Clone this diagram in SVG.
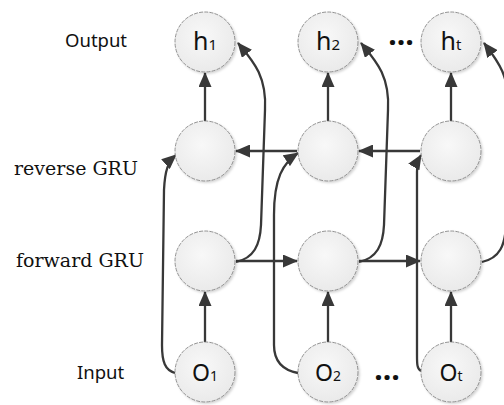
<svg xmlns="http://www.w3.org/2000/svg" width="504" height="405" viewBox="0 0 504 405">
<defs>
  <radialGradient id="g" cx="45%" cy="40%" r="65%">
    <stop offset="0" stop-color="#f8f8f8"/>
    <stop offset="1" stop-color="#e9e9e9"/>
  </radialGradient>
  <filter id="sh" x="-20%" y="-20%" width="150%" height="150%">
    <feDropShadow dx="1.5" dy="1.5" stdDeviation="1.2" flood-color="#000" flood-opacity="0.18"/>
  </filter>
  <marker id="ah" markerUnits="userSpaceOnUse" markerWidth="15" markerHeight="13" refX="14" refY="6.5" orient="auto">
    <path d="M0,0 L15,6.5 L0,13 z" fill="#383838"/>
  </marker>
  <style>
    .n{fill:url(#g);stroke:#7a7a7a;stroke-width:0.8;stroke-dasharray:4 1.2;filter:url(#sh)}
    .c path{fill:none;stroke:#383838;stroke-width:2.3;marker-end:url(#ah)}
    .lb{font-family:"Noto Sans","Open Sans",sans-serif;font-size:18.5px;fill:#111}
    .ls{font-family:"DejaVu Serif","Liberation Serif",serif;font-size:19px;fill:#111}
    .t{font-family:"Noto Sans","Open Sans",sans-serif;fill:#111;text-anchor:middle}
    .d{font-family:"Noto Sans",sans-serif;font-weight:bold;font-size:30px;fill:#111;text-anchor:middle}
  </style>
</defs>
<rect width="504" height="405" fill="#fff"/>

<text class="lb" x="65" y="47">Output</text>
<text class="ls" x="14" y="175">reverse GRU</text>
<text class="ls" x="16" y="267">forward GRU</text>
<text class="lb" x="77" y="379">Input</text>

<g class="c" id="connectors">
  <path d="M205,121 L205,73"/>
  <path d="M328,121 L328,73"/>
  <path d="M451,121 L451,73"/>
  <path d="M205,342 L205,292"/>
  <path d="M328,342 L328,292"/>
  <path d="M451,342 L451,292"/>
  <path d="M236,261 L297,261"/>
  <path d="M359,261 L420,261"/>
  <path d="M420,151 L359,151"/>
  <path d="M297,151 L236,151"/>
  <path d="M236,262 C254,258 260,245 261,225 L265,110 C267,75 252,60 238,43"/>
  <path d="M359,262 C377,258 383,245 384,225 L388,110 C390,75 375,60 361,43"/>
  <path d="M482,262 C500,258 505,245 506,225 L508,110 C510,75 497,60 484,43"/>
  <path d="M175,373 C165,370 162,362 162,345 L164,190 C165,170 168,162 176,155"/>
  <path d="M298,373 C282,370 274,360 274,345 L274,215 C274,178 283,163 298,153"/>
  <path d="M421,371 C417,369 417,364 417,355 L417,172 C417,164 418,160 421,155"/>
</g>

<g id="h1"><circle class="n" cx="205" cy="42" r="30"/><text class="t" x="205" y="50"><tspan font-size="25">h</tspan><tspan font-size="15">1</tspan></text></g>
<g id="h2"><circle class="n" cx="328" cy="42" r="30"/><text class="t" x="328" y="50"><tspan font-size="25">h</tspan><tspan font-size="15">2</tspan></text></g>
<g id="ht"><circle class="n" cx="451" cy="42" r="30"/><text class="t" x="451" y="50"><tspan font-size="25">h</tspan><tspan font-size="15">t</tspan></text></g>

<g id="r1"><circle class="n" cx="205" cy="151" r="30"/></g>
<g id="r2"><circle class="n" cx="328" cy="151" r="30"/></g>
<g id="r3"><circle class="n" cx="451" cy="151" r="30"/></g>

<g id="f1"><circle class="n" cx="205" cy="261" r="30"/></g>
<g id="f2"><circle class="n" cx="328" cy="261" r="30"/></g>
<g id="f3"><circle class="n" cx="451" cy="261" r="30"/></g>

<g id="o1"><circle class="n" cx="205" cy="372" r="30"/><text class="t" x="205" y="381"><tspan font-size="23">O</tspan><tspan font-size="14">1</tspan></text></g>
<g id="o2"><circle class="n" cx="328" cy="372" r="30"/><text class="t" x="328" y="381"><tspan font-size="23">O</tspan><tspan font-size="14">2</tspan></text></g>
<g id="ot"><circle class="n" cx="451" cy="372" r="30"/><text class="t" x="451" y="381"><tspan font-size="23">O</tspan><tspan font-size="14">t</tspan></text></g>

<text class="d" x="401" y="45">…</text>
<text class="d" x="387" y="380">…</text>
</svg>
